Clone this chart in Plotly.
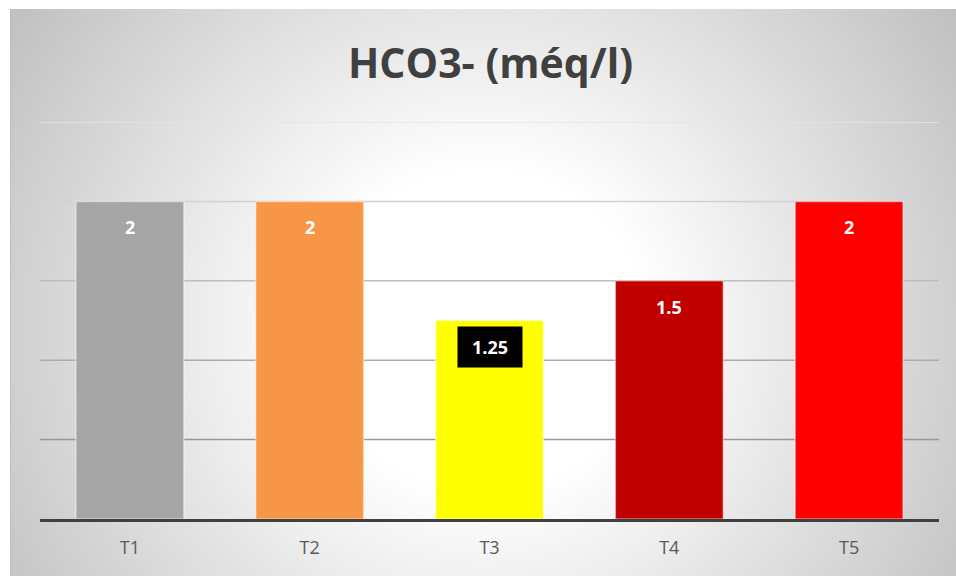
import base64, struct, zlib
import numpy as np
import plotly.graph_objects as go

# ---- data ----
categories = ["T1", "T2", "T3", "T4", "T5"]
values = [2, 2, 1.25, 1.5, 2]
value_labels = ["2", "2", "1.25", "1.5", "2"]
bar_colors = ["#A5A5A5", "#F79646", "#FFFF00", "#C00000", "#FF0000"]
grid_levels = [0.5, 1.0, 1.5, 2.0, 2.5]
title_text = "HCO3- (méq/l)"

# ---- radial gradient background as PNG data URI ----
W, H = 946, 567
yy, xx = np.mgrid[0:H, 0:W]
cx, cy, rx, ry = 473, 321, 473, 463
d = np.sqrt(((xx - cx) / rx) ** 2 + ((yy - cy) / ry) ** 2)
d0 = 0.35
t = np.clip((d - d0) / (1 - d0), 0, None)
img = (255 - 47 * t).clip(185, 255).astype(np.uint8)
raw = b"".join(b"\x00" + img[r].tobytes() for r in range(H))
def chunk(tag, data):
    c = struct.pack(">I", len(data)) + tag + data
    return c + struct.pack(">I", zlib.crc32(tag + data) & 0xffffffff)
png = b"\x89PNG\r\n\x1a\n" + chunk(b"IHDR", struct.pack(">IIBBBBB", W, H, 8, 0, 0, 0, 0)) \
    + chunk(b"IDAT", zlib.compress(raw, 9)) + chunk(b"IEND", b"")
src = "data:image/png;base64," + base64.b64encode(png).decode()

# plot area in pixels
PL, PR, PT, PB = 40, 939, 122, 519
pw, ph = PR - PL, PB - PT
def px_x(p): return (p - PL) / pw
def px_y(p): return (PB - p) / ph

fig = go.Figure()
fig.add_trace(go.Bar(
    x=categories, y=values,
    marker=dict(color=bar_colors, line=dict(color="rgba(255,255,255,0.45)", width=1.5)),
    hoverinfo="skip",
))

annotations = []
for c, v, txt in zip(categories, values, value_labels):
    if txt == "1.25":
        annotations.append(dict(x=c, y=v, xref="x", yref="y", text=txt, showarrow=False,
                                yanchor="top", yshift=-5, bgcolor="black",
                                font=dict(family="Open Sans", size=18, color="white", weight="bold"),
                                width=58, height=34, borderpad=3))
    else:
        annotations.append(dict(x=c, y=v, xref="x", yref="y", text=txt, showarrow=False,
                                yanchor="top", yshift=-12,
                                font=dict(family="Open Sans", size=18, color="white", weight="bold")))

annotations.append(dict(x=px_x(490), y=px_y(62), xref="paper", yref="paper",
                        text="<b>" + title_text + "</b>", showarrow=False,
                        xanchor="center", yanchor="middle",
                        font=dict(family="Open Sans", size=41, color="#404040")))

shapes = [dict(type="line", xref="paper", yref="paper", x0=px_x(10.5), x1=px_x(10.5),
               y0=px_y(9), y1=px_y(576), line=dict(color="#bdbdbd", width=1), layer="below")]
for g in grid_levels:
    gray = int(152 + (g - 0.5) * 38)
    shapes.append(dict(type="line", xref="paper", yref="y", x0=0, x1=1, y0=g, y1=g,
                       line=dict(color=f"rgb({gray},{gray},{gray})", width=1.5), layer="below"))

fig.update_layout(
    width=956, height=576,
    margin=dict(l=PL, r=956 - PR, t=PT, b=576 - PB),
    paper_bgcolor="white", plot_bgcolor="rgba(0,0,0,0)",
    showlegend=False, bargap=0.4, hovermode=False,
    annotations=annotations,
    images=[dict(source=src, xref="paper", yref="paper",
                 x=px_x(10), y=px_y(9), sizex=W / pw, sizey=H / ph,
                 xanchor="left", yanchor="top", sizing="stretch", layer="below")],
    shapes=shapes,
)
fig.update_yaxes(range=[0, 2.5], dtick=0.5, showticklabels=False, showgrid=False,
                 zeroline=False, showline=False)
fig.update_xaxes(showgrid=False, showline=True, linecolor="#404040", linewidth=3,
                 ticks="", ticklabelstandoff=10,
                 tickfont=dict(family="Open Sans", size=18, color="#595959"))

fig.write_html("out.html", config={"displayModeBar": False, "staticPlot": True},
               post_script="document.body.style.margin='0px';document.body.style.overflow='hidden';")
